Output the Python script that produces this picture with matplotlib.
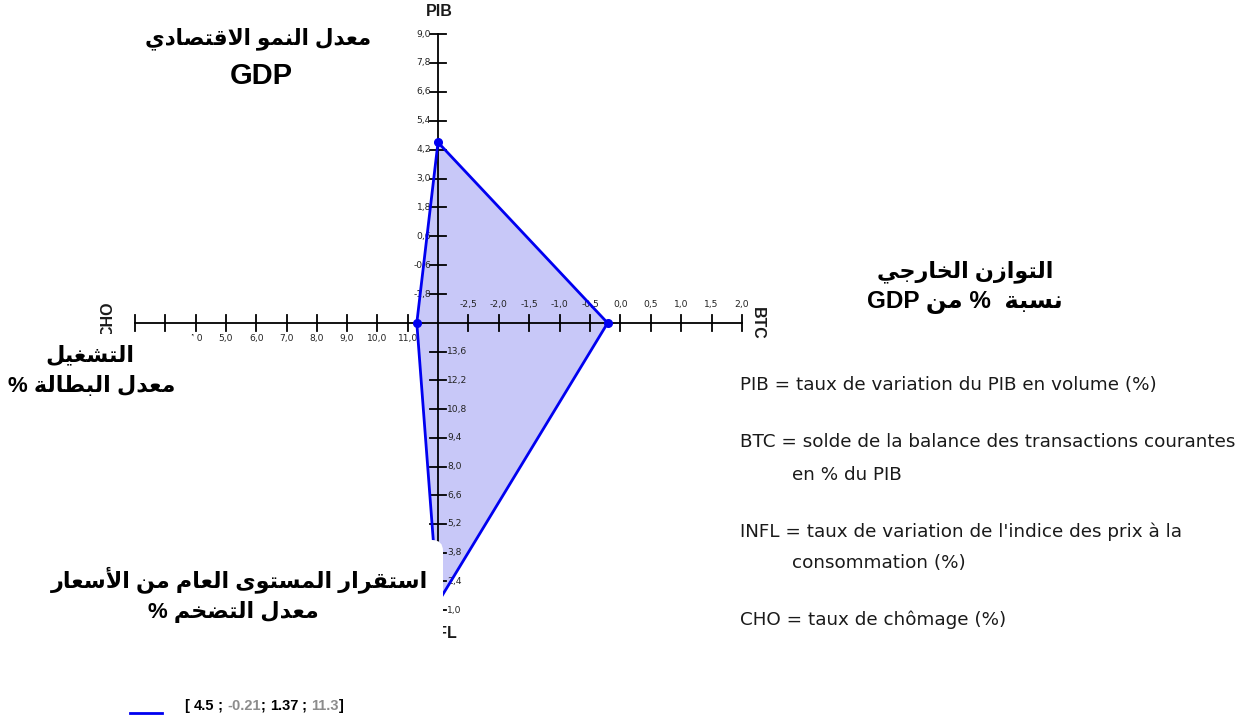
import matplotlib
matplotlib.use("Agg")
import matplotlib.pyplot as plt
from matplotlib.patches import Polygon, FancyBboxPatch

# ---------------------------------------------------------------- data
axis_names = ["PIB", "BTC", "INFL", "CHO"]
values = [4.5, -0.21, 1.37, 11.3]

# value at the centre of the cross and at the far end of each arm
axis_start = [-3.0, -3.0, 15.0, 12.0]
axis_end = [9.0, 2.0, 1.0, 2.0]

pib_ticks = [-1.8, -0.6, 0.6, 1.8, 3.0, 4.2, 5.4, 6.6, 7.8, 9.0]
btc_ticks = [-2.5, -2.0, -1.5, -1.0, -0.5, 0.0, 0.5, 1.0, 1.5, 2.0]
infl_ticks = [13.6, 12.2, 10.8, 9.4, 8.0, 6.6, 5.2, 3.8, 2.4, 1.0]
cho_ticks = [11.0, 10.0, 9.0, 8.0, 7.0, 6.0, 5.0, 4.0, 3.0, 2.0]

legend_lines = [
    ("PIB = taux de variation du PIB en volume (%)", None),
    ("BTC = solde de la balance des transactions courantes", "en % du PIB"),
    ("INFL = taux de variation de l'indice des prix à la", "consommation (%)"),
    ("CHO = taux de chômage (%)", None),
]

title_growth = ["معدل النمو الاقتصادي", "GDP"]
title_external = ["التوازن الخارجي", "نسبة  % من GDP"]
title_employment = ["التشغيل", "معدل البطالة %"]
title_prices = ["استقرار المستوى العام من الأسعار", "معدل التضخم %"]

# ---------------------------------------------------------------- Arabic shaping
# isolated, final, initial, medial presentation forms
FORMS = {
    "\u0623": ("\uFE83", "\uFE84", None, None),
    "\u0627": ("\uFE8D", "\uFE8E", None, None),
    "\u0628": ("\uFE8F", "\uFE90", "\uFE91", "\uFE92"),
    "\u0629": ("\uFE93", "\uFE94", None, None),
    "\u062A": ("\uFE95", "\uFE96", "\uFE97", "\uFE98"),
    "\u062C": ("\uFE9D", "\uFE9E", "\uFE9F", "\uFEA0"),
    "\u062E": ("\uFEA5", "\uFEA6", "\uFEA7", "\uFEA8"),
    "\u062F": ("\uFEA9", "\uFEAA", None, None),
    "\u0631": ("\uFEAD", "\uFEAE", None, None),
    "\u0632": ("\uFEAF", "\uFEB0", None, None),
    "\u0633": ("\uFEB1", "\uFEB2", "\uFEB3", "\uFEB4"),
    "\u0634": ("\uFEB5", "\uFEB6", "\uFEB7", "\uFEB8"),
    "\u0635": ("\uFEB9", "\uFEBA", "\uFEBB", "\uFEBC"),
    "\u0636": ("\uFEBD", "\uFEBE", "\uFEBF", "\uFEC0"),
    "\u0637": ("\uFEC1", "\uFEC2", "\uFEC3", "\uFEC4"),
    "\u0639": ("\uFEC9", "\uFECA", "\uFECB", "\uFECC"),
    "\u063A": ("\uFECD", "\uFECE", "\uFECF", "\uFED0"),
    "\u0642": ("\uFED5", "\uFED6", "\uFED7", "\uFED8"),
    "\u0644": ("\uFEDD", "\uFEDE", "\uFEDF", "\uFEE0"),
    "\u0645": ("\uFEE1", "\uFEE2", "\uFEE3", "\uFEE4"),
    "\u0646": ("\uFEE5", "\uFEE6", "\uFEE7", "\uFEE8"),
    "\u0648": ("\uFEED", "\uFEEE", None, None),
    "\u0649": ("\uFEEF", "\uFEF0", None, None),
    "\u064A": ("\uFEF1", "\uFEF2", "\uFEF3", "\uFEF4"),
}
LAM_ALEF = {"\u0627": ("\uFEFB", "\uFEFC"), "\u0623": ("\uFEF7", "\uFEF8")}


def _dual(c):
    return c in FORMS and FORMS[c][2] is not None


def shape_word(word):
    out, i, n = [], 0, len(word)
    while i < n:
        c = word[i]
        if c not in FORMS:
            out.append(c)
            i += 1
            continue
        joins_prev = i > 0 and _dual(word[i - 1])
        if c == "\u0644" and i + 1 < n and word[i + 1] in LAM_ALEF:
            iso, fin = LAM_ALEF[word[i + 1]]
            out.append(fin if joins_prev else iso)
            i += 2
            continue
        joins_next = _dual(c) and i + 1 < n and word[i + 1] in FORMS
        iso, fin, ini, med = FORMS[c]
        if joins_prev and joins_next:
            out.append(med)
        elif joins_prev:
            out.append(fin)
        elif joins_next:
            out.append(ini)
        else:
            out.append(iso)
        i += 1
    return "".join(out)


def rtl(line):
    parts = []
    for tok in reversed(line.split(" ")):
        if any(ch in FORMS for ch in tok):
            parts.append(shape_word(tok)[::-1])
        else:
            parts.append(tok)
    return " ".join(parts)


# ---------------------------------------------------------------- layout
W, H = 1251, 721
fig = plt.figure(figsize=(W / 100, H / 100), dpi=100)
ax = fig.add_axes([0, 0, 1, 1])
ax.set_xlim(0, W)
ax.set_ylim(H, 0)
ax.axis("off")

cx, cy = 438, 323
arm_len = [289, 304, 287, 303]
arm_dir = [(0, -1), (1, 0), (0, 1), (-1, 0)]
TICK = 8

LINE_BLUE = "#0000f0"
FILL = "#c8c8f8"
TXT = "#1a1a1a"
TICK_FONT = dict(family=["DejaVu Sans"], fontsize=6.6, color="#222222")
AR_FONT = ["Liberation Sans", "DejaVu Sans"]


def pos(k, v):
    f = (v - axis_start[k]) / (axis_end[k] - axis_start[k])
    dx, dy = arm_dir[k]
    return cx + dx * arm_len[k] * f, cy + dy * arm_len[k] * f


def fmt(v):
    return f"{v:.1f}".replace(".", ",")


# polygon
pts = [pos(k, v) for k, v in enumerate(values)]
ax.add_patch(Polygon(pts, closed=True, facecolor=FILL, edgecolor="none", zorder=1))
ax.plot([p[0] for p in pts] + [pts[0][0]], [p[1] for p in pts] + [pts[0][1]],
        color=LINE_BLUE, lw=2.0, zorder=4, solid_joinstyle="round")
ax.plot([p[0] for p in pts], [p[1] for p in pts], "o", color=LINE_BLUE, ms=5.5, zorder=4)

# axes
for k in range(4):
    x0, y0 = pos(k, axis_start[k])
    x1, y1 = pos(k, axis_end[k])
    ax.plot([x0, x1], [y0, y1], color="black", lw=1.3, zorder=3)

all_ticks = [pib_ticks, btc_ticks, infl_ticks, cho_ticks]
for k, ticks in enumerate(all_ticks):
    for t in ticks:
        x, y = pos(k, t)
        if arm_dir[k][0] == 0:
            ax.plot([x - TICK, x + TICK], [y, y], color="black", lw=1.3, zorder=3)
        else:
            ax.plot([x, x], [y - TICK, y + TICK], color="black", lw=1.3, zorder=3)
        if k == 0:
            ax.text(x - 7, y, fmt(t), ha="right", va="center", zorder=3, **TICK_FONT)
        elif k == 1:
            ax.text(x, y - 18, fmt(t), ha="center", va="center", zorder=3, **TICK_FONT)
        elif k == 2:
            ax.text(x + 9, y, fmt(t), ha="left", va="center", zorder=3, **TICK_FONT)
        else:
            ax.text(x, y + 16, fmt(t), ha="center", va="center", zorder=3, **TICK_FONT)

# axis names
AX_FONT = dict(family=["Liberation Sans", "DejaVu Sans"], fontsize=11.5, fontweight="bold", color=TXT)
ax.text(cx + 1, 11, axis_names[0], ha="center", va="center", zorder=3, **AX_FONT)
ax.text(757, cy, axis_names[1], ha="center", va="center", rotation=-90, zorder=3, **AX_FONT)
ax.text(cx + 2, 633, axis_names[2], ha="center", va="center", zorder=3, **AX_FONT)
ax.text(108, cy - 4, axis_names[3], ha="center", va="center", rotation=90, zorder=3, **AX_FONT)

# text boxes with white backgrounds
for (x0, y0, w, h) in [(15, 540, 428, 104), (0, 334, 197, 78)]:
    ax.add_patch(FancyBboxPatch((x0, y0), w, h, boxstyle="round,pad=0,rounding_size=11",
                                facecolor="white", edgecolor="none", zorder=5))

AR = dict(family=AR_FONT, fontweight="bold", color="black", zorder=6)
for lines, centres, sizes in [
    (title_growth, [(258, 39), (261, 76)], [15.5, 21]),
    (title_external, [(965, 272), (965, 302)], [16, 17.5]),
    (title_employment, [(90, 356), (92, 386)], [16, 16]),
    (title_prices, [(240, 580), (233, 612)], [16, 16]),
]:
    for s, (x, y), fs in zip(lines, centres, sizes):
        ax.text(x, y, rtl(s), ha="center", va="center", fontsize=fs, **AR)

# definitions on the right
DEF = dict(family=["DejaVu Sans"], fontsize=13.2, color=TXT, va="center", ha="left")
ys = [(385, None), (442, 475), (532, 563), (620, None)]
for (first, second), (y1, y2) in zip(legend_lines, ys):
    ax.text(740, y1, first, **DEF)
    if second:
        ax.text(792, y2, second, **DEF)

# series legend
ax.plot([130, 162], [713, 713], color=LINE_BLUE, lw=2)
pieces = ["[ ", f"{values[0]}", " ; ", f"{values[1]}", "; ", f"{values[2]}", " ; ", f"{values[3]}", "]"]
colors = ["black", "black", "black", "#8c8c8c", "black", "black", "black", "#8c8c8c", "black"]
LEG = dict(family=["Liberation Sans", "DejaVu Sans"], fontsize=10.5, fontweight="bold")
t = ax.text(185, 706, pieces[0], ha="left", va="center", color=colors[0], **LEG)
for p, c in zip(pieces[1:], colors[1:]):
    t = ax.annotate(p, xy=(1, 0.5), xycoords=t, ha="left", va="center", color=c, **LEG)

fig.savefig("out.png", dpi=100)
